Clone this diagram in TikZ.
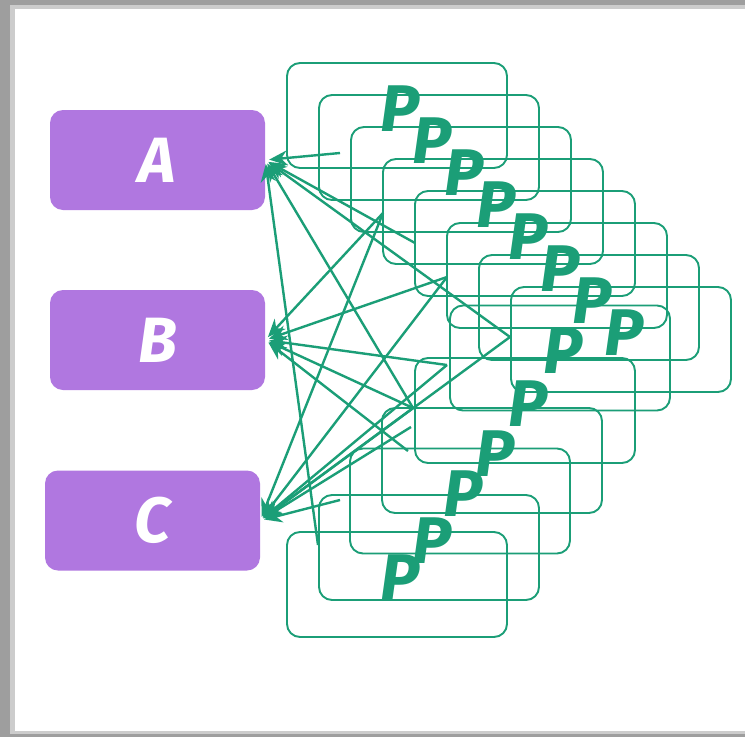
\documentclass[tikz,border=0pt]{standalone}
\usepackage{fontspec}
\setmainfont{Fira Sans}
\usetikzlibrary{arrows.meta,positioning}

\definecolor{pgreen}{HTML}{1B9E77}
\definecolor{boxpurple}{HTML}{B077E0}

\begin{document}
\begin{tikzpicture}[x=1pt,y=-1pt,
    pbox/.style={draw=pgreen, line width=1.9pt, rounded corners=13pt,
        minimum width=220pt, minimum height=105pt, inner sep=0pt},
    ptext/.style={pgreen, font=\fontsize{66}{66}\selectfont\bfseries\itshape},
    abox/.style={fill=boxpurple, rounded corners=13pt, minimum width=215pt,
        minimum height=100pt, text=white, font=\fontsize{64}{64}\selectfont\bfseries\itshape},
    link/.style={pgreen, line width=2.4pt, -{Stealth[length=18pt,width=15pt]}, shorten >=4pt}]
    \useasboundingbox (0,0) rectangle (745,737);
    % Frame
    \fill[black!38] (0,0) rectangle (745,737);
    \fill[black!20] (10,5) rectangle (745,734);
    \fill[white] (15,9) rectangle (745,731);

    % Targets
    \node[abox] (A) at (157.5,160) {A};
    \node[abox] (B) at (157.5,340) {B};
    \node[abox] (C) at (152.5,520.5) {C};

    % Upper run of P boxes
    \foreach \i in {1,...,8} {
        \node[pbox] (up\i) at (365+32*\i, 83.5+32*\i) {};
        \node[ptext] at ([xshift=3pt,yshift=7pt]up\i.center) {P};
    }

    % Lower run of P boxes
    \foreach \i/\x/\y in {1/397/584.5, 2/429/547.5, 3/460/501, 4/492/460.5, 5/525/410.5, 6/560/358} {
        \node[pbox] (low\i) at (\x,\y) {};
        \node[ptext] at ([xshift=3pt,yshift=7pt]low\i.center) {P};
    }

    % Loose ends of the connectors
    \foreach \n/\x/\y in {1/340/153, 2/415/243, 3/510/337, 4/413/408, 5/318/545, 6/383/213,
                          7/447/277, 8/447/365, 9/408/451, 10/411/427, 11/340/500}
        \coordinate (end\n) at (\x,\y);

    % Connectors
    \foreach \s/\t in {end1/A, end2/A, end3/A, end4/A, end5/A,
                       end4/B, end6/B, end7/B, end8/B, end9/B,
                       end3/C, end4/C, end6/C, end7/C, end8/C, end10/C, end11/C}
        \draw[link] (\s) -- (\t.east);
\end{tikzpicture}
\end{document}
